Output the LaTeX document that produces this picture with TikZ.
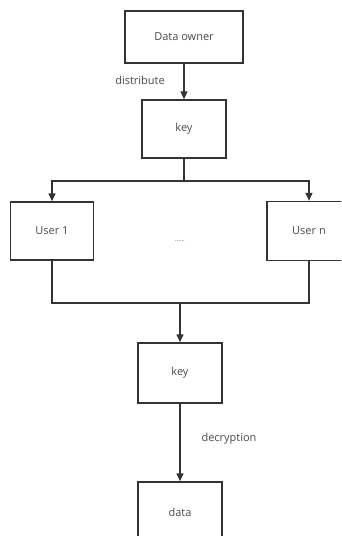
\documentclass[tikz,border=0pt]{standalone}
\usepackage{fontspec}
\setmainfont{Open Sans}
\usetikzlibrary{arrows.meta}
\definecolor{linegray}{HTML}{333333}
\definecolor{textgray}{HTML}{4A4A4A}
\tikzset{
  box/.style={draw=linegray, line width=1.5pt, rectangle, inner sep=0pt,
    text=textgray, font=\fontsize{11}{13}\selectfont},
  conn/.style={draw=linegray, line width=1.5pt},
  arr/.style={conn, -{Triangle[length=8pt,width=7pt]}},
  lbl/.style={text=textgray, font=\fontsize{11}{13}\selectfont, inner sep=0pt}
}
\begin{document}
\begin{tikzpicture}[x=1pt,y=-1pt]
        \useasboundingbox (0,0) rectangle (341,536);
        \clip (0,0) rectangle (341,536);
        % boxes
        \node[box, minimum width=118, minimum height=52] (owner) at (184,37) {Data owner};
        \node[box, minimum width=84, minimum height=58] (keyA) at (184,129) {key};
        \node[box, minimum width=83, minimum height=58] (userA) at (52,231) {User 1};
        \node[box, minimum width=84, minimum height=59] (userN) at (309,231) {User n};
        \node[box, minimum width=84, minimum height=60] (keyB) at (180,373) {key};
        \node[box, minimum width=84, minimum height=60] (data) at (180,512) {data};
        \coordinate (split) at (184,181);
        \coordinate (merge) at (180,303);

        % lines
        \draw[arr] (owner) -- (keyA);
        \draw[conn] (keyA) -- (split);
        \draw[arr] (split) -| (userA.north);
        \draw[arr] (split) -| (userN.north);
        \draw[conn] (userA.south) |- (merge);
        \draw[conn] (userN.south) |- (merge);
        \draw[arr] (merge) -- (keyB);
        \draw[arr] (keyB) -- (data);

        % labels
        \node[lbl] (distr) at (140,80) {distribute};
        \node[lbl] (dots) at (180,241) {\fontsize{6}{7}\selectfont ......};
        \node[lbl] (decr) at (229,439) {decryption};
    \end{tikzpicture}
\end{document}
